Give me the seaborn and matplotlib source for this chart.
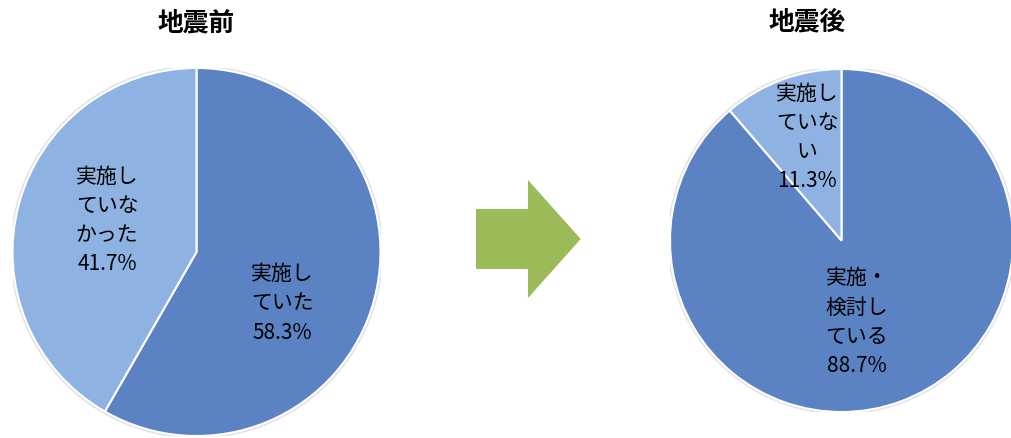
import numpy as np
import pandas as pd
import seaborn as sns
import matplotlib
matplotlib.use("Agg")
import matplotlib.pyplot as plt
from matplotlib.patches import FancyArrow, Circle

# ---- data ----
titles = ["地震前", "地震後"]
before_labels = ["実施し\nていた", "実施し\nていな\nかった"]
before_values = [58.3, 41.7]
after_labels = ["実施・\n検討し\nている", "実施し\nていな\nい"]
after_values = [88.7, 11.3]

sns.set_theme(style="white")
plt.rcParams['font.family'] = ['Noto Sans CJK JP', 'DejaVu Sans']

DARK = "#5B83C4"
LIGHT = "#8EB3E2"
GREEN = "#9BBB59"

W, H = 1011, 438
fig = plt.figure(figsize=(W / 100, H / 100), dpi=100)
fig.patch.set_facecolor("white")


def px_axes(cx, cy, r):
    return fig.add_axes([(cx - r) / W, (H - (cy + r)) / H, 2 * r / W, 2 * r / H])


# layout (pie centre, radius in pixels; label offsets in radius units)
pies = [
    dict(cx=196.5, cy=252, r=184, labels=before_labels, values=before_values,
         label_pos=[(0.465, -0.28), (-0.486, 0.17)], title_x=196, title_y=23),
    dict(cx=841.5, cy=240.5, r=171.5, labels=after_labels, values=after_values,
         label_pos=[(0.09, -0.475), (-0.20, 0.60)], title_x=807, title_y=22),
]

for i, p in enumerate(pies):
    ax = px_axes(p["cx"], p["cy"], p["r"])
    df = pd.DataFrame({"label": p["labels"], "value": p["values"]})
    # soft shadow ring
    ax.add_patch(Circle((0, 0), 1.01, color="#e2e2e2", zorder=0))
    ax.pie(df["value"], colors=[DARK, LIGHT], startangle=90, counterclock=False,
           radius=1.0, wedgeprops=dict(edgecolor="white", linewidth=1.5))
    ax.set_xlim(-1, 1)
    ax.set_ylim(-1, 1)
    ax.set_aspect("auto")
    ax.axis("off")
    for (lab, val), (lx, ly) in zip(zip(df["label"], df["value"]), p["label_pos"]):
        ax.text(lx, ly, f"{lab}\n{val:.1f}%", ha="center", va="center",
                fontsize=15, linespacing=1.42, color="black")
    fig.text(p["title_x"] / W, 1 - p["title_y"] / H, titles[i], ha="center",
             va="center", fontsize=18.5, fontweight="semibold", color="black")

# arrow between the two pies
aax = fig.add_axes([475.7 / W, (H - 298) / H, 105 / W, 118 / H])
aax.set_xlim(0, 1)
aax.set_ylim(0, 1)
aax.axis("off")
aax.add_patch(FancyArrow(0, 0.5, 1, 0, width=0.508, head_width=1.0,
                         head_length=0.502, length_includes_head=True,
                         color=GREEN, linewidth=0))

fig.savefig("out.png", dpi=100, facecolor="white")
